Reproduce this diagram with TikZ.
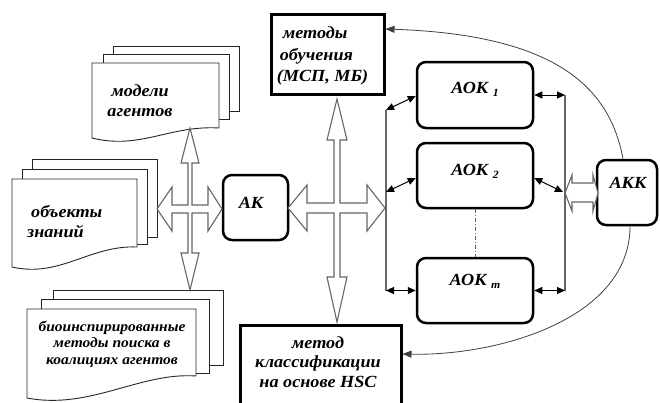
\documentclass[tikz,border=0pt]{standalone}
\usepackage{fontspec}
\setmainfont{Liberation Serif}[FakeStretch=1.07]
\usetikzlibrary{arrows.meta,calc}
\tikzset{
  lbl/.style={font=\fontsize{17}{20}\selectfont\bfseries\itshape, inner sep=0pt},
  small lbl/.style={font=\fontsize{14.5}{16.5}\selectfont\bfseries\itshape, inner sep=0pt},
  rbox/.style={draw, line width=2.5pt, rounded corners=9pt, fill=white},
  sqbox/.style={draw, line width=3pt, fill=white},
  sheet/.style={draw=black!85, line width=0.9pt, fill=white},
  hollow/.style={draw=black!60, line width=1.1pt, fill=white, line join=miter},
  busline/.style={draw=black!60, line width=1.3pt},
  dblarr/.style={{Triangle[length=8pt,width=7pt]}-{Triangle[length=8pt,width=7pt]}, line width=1pt},
  curvearr/.style={-{Triangle[length=9pt,width=7pt]}, line width=0.8pt, draw=black!75},
}
\newcommand{\subidx}[1]{\raisebox{-3pt}{\fontsize{11}{11}\selectfont #1}}
\begin{document}
\begin{tikzpicture}[x=1pt,y=-1pt]
\useasboundingbox (0,0) rectangle (660,402);
\fill[white] (0,0) rectangle (660,402);

% ---- document stacks ----
% модели агентов
\draw[sheet] (113,46) rectangle (239,111);
\draw[sheet] (103,54) rectangle (229,119);
\draw[sheet] (92,63) -- (219,63) -- (219,128) .. controls (170,125) and (140,150) .. (92,138) -- cycle;
\node[lbl, align=center] (tmod) at (140,101) {модели\\агентов};

% объекты знаний
\draw[sheet] (32,159) rectangle (157,237);
\draw[sheet] (22,169) rectangle (147,244);
\draw[sheet] (12,179) -- (137,179) -- (137,247) .. controls (90,245) and (60,278) .. (12,267) -- cycle;
\node[lbl, align=left, anchor=west] (tobj) at (27,222) {\hspace*{4pt}объекты\\знаний};

% биоинспирированные
\draw[sheet] (53,290) rectangle (223,365);
\draw[sheet] (41,299) rectangle (209,373);
\draw[sheet] (27,309) -- (196,309) -- (196,376) .. controls (140,372) and (90,410) .. (27,398) -- cycle;
\node[small lbl, align=center] (tbio) at (112,344) {биоинспирированные\\методы поиска в\\коалициях агентов};

% ---- boxes ----
\node[sqbox, minimum width=113pt, minimum height=80pt] (meth) at (327.5,54) {};
\node[lbl, align=left, font=\fontsize{17}{21.5}\selectfont\bfseries\itshape] (tmeth) at (322.5,56) {\hspace*{6pt}методы\\\hspace*{3pt}обучения\\(МСП, МБ)};
\node[sqbox, minimum width=161pt, minimum height=110pt, anchor=north] (hsc) at (320.5,324) {};
\node[lbl, align=center, font=\fontsize{17}{19.5}\selectfont\bfseries\itshape] (thsc) at (318,362) {метод\\классификации\\на основе HSC};

\node[rbox, minimum width=65pt, minimum height=65pt] (ak) at (255.5,207.5) {};
\node[lbl] (tak) at (251,203) {АК};

\node[rbox, minimum width=116pt, minimum height=66pt] (aok1) at (475,95) {};
\node[lbl] (taok1) at (475,89) {АОК~\subidx{1}};
\node[rbox, minimum width=116pt, minimum height=65pt] (aok2) at (475,175.5) {};
\node[lbl] (taok2) at (475,171) {АОК~\subidx{2}};
\node[rbox, minimum width=116pt, minimum height=65pt] (aokm) at (475,290.5) {};
\node[lbl] (taokm) at (475,281) {АОК~\subidx{m}};

\node[rbox, minimum width=60pt, minimum height=65pt] (akk) at (627,192.5) {};
\node[lbl] (takk) at (628,183) {АКК};

% ---- hollow crosses ----
\draw[hollow] (157,209) -- (172,187) -- (172,205) -- (188,205) -- (188,163) -- (181,163) -- (190,128) -- (199,163) -- (192,163) -- (192,205) -- (208,205) -- (208,187) -- (222,209) -- (208,231) -- (208,213) -- (192,213) -- (192,253) -- (199,253) -- (190,290) -- (181,253) -- (188,253) -- (188,213) -- (172,213) -- (172,231) -- cycle;

\draw[hollow] (288,208) -- (307,185) -- (307,203) -- (334,203) -- (334,140) -- (327,140) -- (337,99) -- (347,140) -- (340,140) -- (340,203) -- (367,203) -- (367,185) -- (385,208) -- (367,231) -- (367,213) -- (340,213) -- (340,277) -- (347,277) -- (337,322) -- (327,277) -- (334,277) -- (334,213) -- (307,213) -- (307,231) -- cycle;

\draw[hollow] (565,193) -- (572,175) -- (572,183) -- (593,183) -- (593,175) -- (598,193) -- (593,211) -- (593,202) -- (572,202) -- (572,211) -- cycle;

% ---- buses ----
\coordinate (bl1) at (386,110);
\coordinate (bl2) at (386,192);
\coordinate (bl3) at (386,290.5);
\coordinate (br1) at (565,95);
\coordinate (br2) at (563,192);
\coordinate (br3) at (565,290.5);
\draw[busline] (bl1) -- (bl3);
\draw[busline] (br1) -- (565,290.5);

\draw[dblarr] (bl1) -- ([yshift=-1pt]aok1.west);
\draw[dblarr] (bl2) -- ([yshift=-2.5pt]aok2.west);
\draw[dblarr] (bl3) -- (aokm.west);
\draw[dblarr] (aok1.east) -- (br1);
\draw[dblarr] ([yshift=-2.5pt]aok2.east) -- (br2);
\draw[dblarr] (aokm.east) -- (br3);

\draw[draw=black!60, line width=1pt, dash pattern=on 4pt off 2pt on 1pt off 2pt] (aok2.south) -- (aokm.north);

% ---- feedback curves ----
\draw[curvearr] (akk.north -| 623,0) .. controls (610,90) and (560,35) .. (meth.east |- 0,29);
\draw[curvearr] (akk.south -| 630,0) .. controls (630,318) and (500,356) .. (hsc.east |- 0,354);
\end{tikzpicture}
\end{document}
